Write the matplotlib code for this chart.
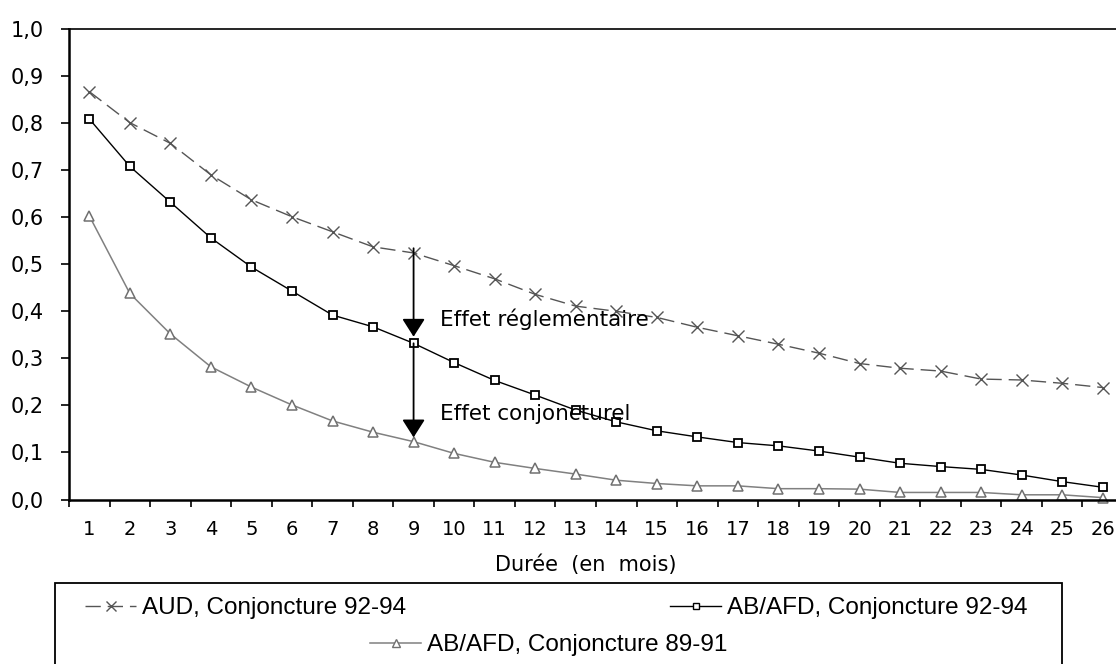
import matplotlib
matplotlib.use('Agg')
import matplotlib.pyplot as plt
from matplotlib.lines import Line2D
from matplotlib.patches import Rectangle
from matplotlib.ticker import FuncFormatter, MultipleLocator

mois = list(range(1, 27))

aud_92_94 = [0.867, 0.801, 0.757, 0.690, 0.637, 0.601, 0.569, 0.537, 0.524, 0.497,
             0.469, 0.436, 0.411, 0.400, 0.387, 0.366, 0.348, 0.330, 0.311, 0.289,
             0.279, 0.273, 0.256, 0.254, 0.247, 0.238]
afd_92_94 = [0.809, 0.708, 0.632, 0.556, 0.494, 0.443, 0.392, 0.367, 0.332, 0.291,
             0.253, 0.222, 0.190, 0.165, 0.146, 0.133, 0.121, 0.114, 0.103, 0.090,
             0.077, 0.070, 0.064, 0.052, 0.038, 0.026]
afd_89_91 = [0.603, 0.438, 0.352, 0.282, 0.239, 0.201, 0.167, 0.143, 0.123, 0.098,
             0.079, 0.066, 0.054, 0.041, 0.034, 0.029, 0.029, 0.023, 0.023, 0.022,
             0.015, 0.015, 0.015, 0.010, 0.010, 0.004]

noms = ['AUD, Conjoncture 92-94', 'AB/AFD, Conjoncture 92-94', 'AB/AFD, Conjoncture 89-91']

plt.rcParams['font.family'] = 'DejaVu Sans'

fig = plt.figure(figsize=(11.16, 6.64), dpi=100)
ax = fig.add_axes([69 / 1116, 164.5 / 664, 1054 / 1116, 470.5 / 664])

l_aud, = ax.plot(mois, aud_92_94, color='#555555', lw=1.0, dashes=(11, 5),
                 marker='x', markersize=9, markeredgewidth=1.0, clip_on=False)
l_92, = ax.plot(mois, afd_92_94, color='black', lw=1.0,
                marker='s', markersize=6, markerfacecolor='white',
                markeredgecolor='black', markeredgewidth=1.3, clip_on=False)
l_89, = ax.plot(mois, afd_89_91, color='#808080', lw=1.1,
                marker='^', markersize=6.5, markerfacecolor='white',
                markeredgecolor='#707070', markeredgewidth=1.1, clip_on=False)

# fleches entre les courbes au 9e mois
i = 8
fleche = dict(arrowstyle='-|>,head_width=0.7,head_length=1.1', color='black',
              lw=1.3, shrinkA=0, shrinkB=0, mutation_scale=10)
ax.annotate('', xy=(mois[i], afd_92_94[i] + 0.014), xytext=(mois[i], aud_92_94[i] + 0.01),
            arrowprops=fleche)
ax.annotate('', xy=(mois[i], afd_89_91[i] + 0.009), xytext=(mois[i], afd_92_94[i]),
            arrowprops=fleche)
ax.text(9.65, 0.384, 'Effet réglementaire', fontsize=15.5, va='center', ha='left')
ax.text(9.65, 0.182, 'Effet conjoncturel', fontsize=15.5, va='center', ha='left')

ax.set_xlim(0.5, 26.5)
ax.set_ylim(0, 1.0)
ax.set_xticks(mois)
ax.xaxis.set_minor_locator(MultipleLocator(1, offset=0.5))
ax.yaxis.set_major_locator(MultipleLocator(0.1))
ax.yaxis.set_major_formatter(FuncFormatter(lambda v, p: f'{v:.1f}'.replace('.', ',')))
ax.tick_params(axis='x', which='major', length=0, pad=15, labelsize=14)
ax.tick_params(axis='x', which='minor', length=5, width=1.2, direction='out')
ax.tick_params(axis='y', length=6, width=1.2, pad=12, labelsize=15)

for s in ['left', 'bottom']:
    ax.spines[s].set_linewidth(1.8)
ax.spines['top'].set_linewidth(1.2)
ax.spines['right'].set_visible(False)

ax.set_xlabel('Durée  (en  mois)', fontsize=15)
ax.xaxis.set_label_coords(0.49, -0.139)
ax.xaxis.label.set_va('center')

# cadre de la legende
fig.patches.append(Rectangle((55 / 1116, -0.05), (1062 - 55) / 1116, 0.05 + 81 / 664,
                             transform=fig.transFigure, fill=False,
                             edgecolor='black', lw=1.3))

leg_font = {'family': 'Liberation Sans', 'size': 17.5}
positions = [(85, 608), (670, 608), (370, 645)]
for ligne, nom, (px, py) in zip([l_aud, l_92, l_89], noms, positions):
    h = Line2D([], [], color=ligne.get_color(), lw=ligne.get_linewidth(),
               linestyle=ligne.get_linestyle(), marker=ligne.get_marker(),
               markersize=ligne.get_markersize() * 0.8,
               markerfacecolor=ligne.get_markerfacecolor(),
               markeredgecolor=ligne.get_markeredgecolor())
    if ligne is l_aud:
        h.set_dashes((11, 5))
    fig.legend([h], [nom], loc='center left', bbox_to_anchor=(px / 1116, 1 - py / 664),
               frameon=False, prop=leg_font, borderpad=0, borderaxespad=0,
               handlelength=2.1, handletextpad=0.25)

fig.savefig('out.png', dpi=100)
